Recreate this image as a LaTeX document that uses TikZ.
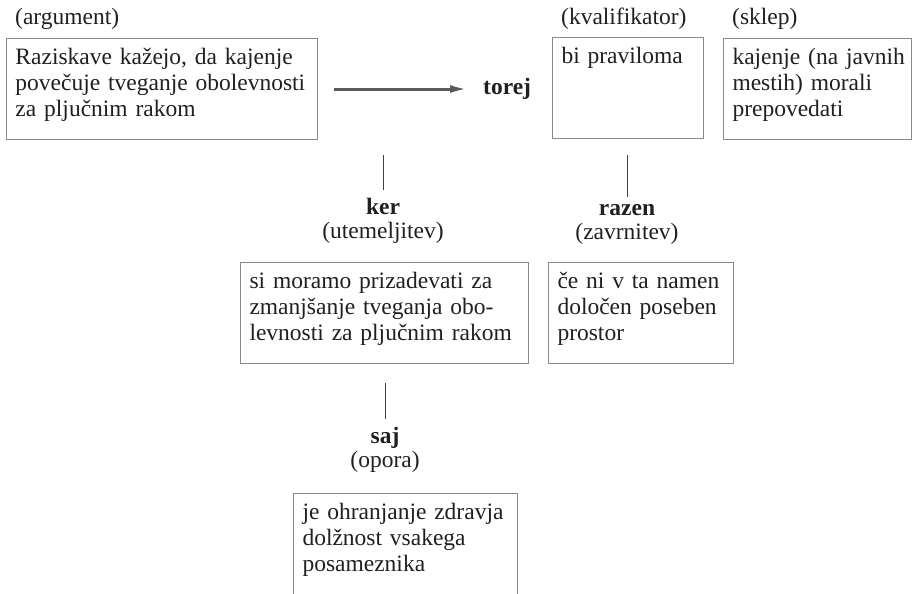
\documentclass[tikz,border=0pt]{standalone}
\usepackage{fontspec}
\setmainfont{Liberation Serif}
\usetikzlibrary{arrows.meta}
\definecolor{boxgray}{HTML}{8A8A8A}
\definecolor{inkgray}{HTML}{231F20}
\definecolor{arrowgray}{HTML}{5A5A5A}
\tikzset{
	cell/.style={draw=boxgray, line width=1pt, anchor=north west, inner xsep=9pt, inner ysep=4pt,
		text height=22pt, text depth=71pt, align=left, text=inkgray, font=\fontsize{23.5}{26}\selectfont},
	tag/.style={inner sep=0pt, text=inkgray, font=\fontsize{23.5}{24}\selectfont},
	linktag/.style={tag, align=center, anchor=base, execute at begin node=\strut},
	tick/.style={draw=black!75, line width=1pt, shorten >=7pt},
	link/.style={draw=arrowgray, line width=3pt, -{Latex[length=18pt,width=8pt]}},
}

\begin{document}
\begin{tikzpicture}[x=1pt,y=-1pt]
			%%%%% START %%%%%
			\useasboundingbox (0,0) rectangle (913,594);
			
			% top row
			\node[cell, text width=293pt] (arg) at (6,38) {Raziskave kažejo, da kajenje\\povečuje tveganje obolevnosti\\za pljučnim rakom};
			\node[cell, text width=133pt] (kval) at (552,37) {bi praviloma};
			\node[cell, text width=170pt] (sklep) at (723,38) {\mbox{kajenje (na javnih}\\\mbox{mestih) morali}\\prepovedati};
			
			\node[tag, anchor=base west] (argtag) at ([xshift=9pt,yshift=13pt]arg.north west) {(argument)};
			\node[tag, anchor=base west] (kvaltag) at ([xshift=9pt,yshift=12pt]kval.north west) {(kvalifikator)};
			\node[tag, anchor=base west] (sklepltag) at ([xshift=9pt,yshift=13pt]sklep.north west) {(sklep)};
			
			\node[tag, anchor=base west] (torej) at (483,95) {\textbf{torej}};
			\draw[link, shorten <=16pt, shorten >=15pt] (arg.east) -- (arg.east -| torej.west);
			
			% ker / razen
			\coordinate (kertop) at (383,155);
			\node[linktag] (ker) at (383,238) {\textbf{ker}\\(utemeljitev)};
			\draw[tick] (kertop) -- (ker.north);
			
			\coordinate (razentop) at (627,155);
			\node[linktag] (razen) at (627,239) {\textbf{razen}\\(zavrnitev)};
			\draw[tick] (razentop) -- (razen.north);
			
			\node[cell, text width=270pt] (utem) at (240,262) {si moramo prizadevati za\\zmanjšanje tveganja obo-\\levnosti za pljučnim rakom};
			\node[cell, text width=167pt] (zavr) at (548,262) {če ni v ta namen\\določen poseben\\prostor};
			
			% saj
			\coordinate (sajtop) at (385,383);
			\node[linktag] (saj) at (385,467) {\textbf{saj}\\(opora)};
			\draw[tick] (sajtop) -- (saj.north);
			
			\node[cell, text width=206pt, text depth=90pt] (opora) at (293,493) {je ohranjanje zdravja\\dolžnost vsakega\\posameznika};
			
			%%%%% END %%%%%
\end{tikzpicture}
\end{document}
